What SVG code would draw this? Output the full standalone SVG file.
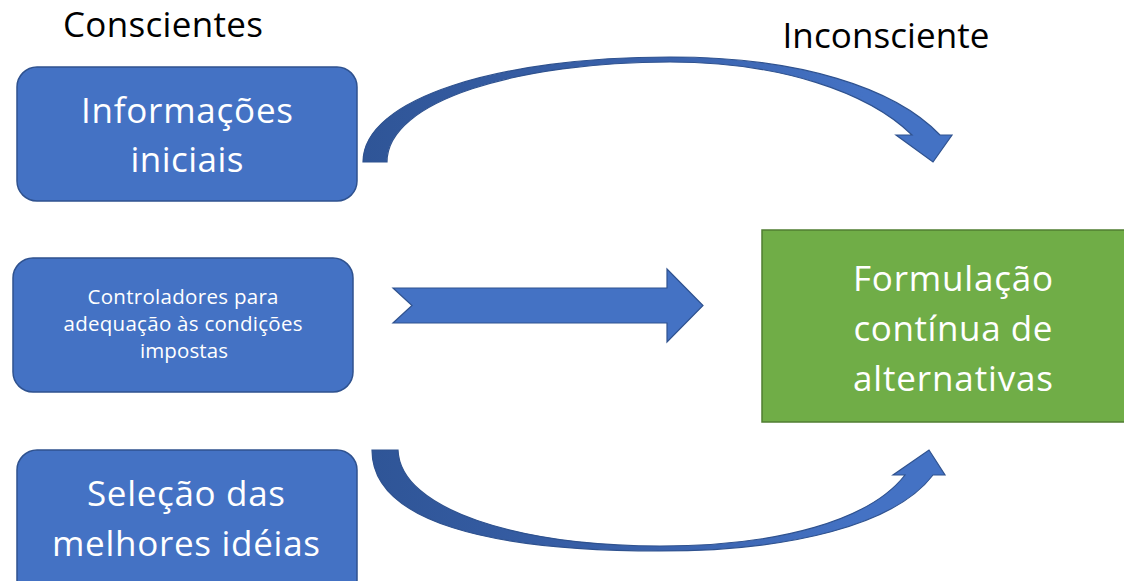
<svg xmlns="http://www.w3.org/2000/svg" width="1124" height="581" viewBox="0 0 1124 581">
<defs>
<style>
.box{fill:#4472C4;stroke:#2F528F;stroke-width:1.5}
.green{fill:#70AD47;stroke:#507E32;stroke-width:1.5}
.arrow{stroke:#2F528F;stroke-width:1.2;stroke-linejoin:miter}
.t{font-family:"Open Sans","Liberation Sans",sans-serif;text-anchor:middle}
.w{fill:#FFFFFF}
.k{fill:#000000}
.big{font-size:35px}
.small{font-size:20.5px}
</style>
<linearGradient id="gTop" x1="363" y1="0" x2="952" y2="0" gradientUnits="userSpaceOnUse">
<stop offset="0" stop-color="#2F5597"/>
<stop offset="0.5" stop-color="#3A62AC"/>
<stop offset="0.85" stop-color="#4472C4"/>
<stop offset="1" stop-color="#4472C4"/>
</linearGradient>
<linearGradient id="gBot" x1="372" y1="0" x2="945" y2="0" gradientUnits="userSpaceOnUse">
<stop offset="0" stop-color="#2F5597"/>
<stop offset="0.5" stop-color="#3A62AC"/>
<stop offset="0.85" stop-color="#4472C4"/>
<stop offset="1" stop-color="#4472C4"/>
</linearGradient>
</defs>
<rect width="1124" height="581" fill="#FFFFFF"/>

<text class="t k" x="163" y="37" font-size="35" textLength="200" lengthAdjust="spacing">Conscientes</text>
<text class="t k" x="886" y="48" font-size="35" textLength="207" lengthAdjust="spacing">Inconsciente</text>

<g id="connectors">
<path class="arrow" fill="url(#gTop)" d="M363,162 C363,98 500,57 670,57 C800,57 895,88 940,135 L952,135 L933,162 L896,135 L912,135 C868,92 780,62 670,62 C520,62 387,100 387,162 Z"/>
<path class="arrow" fill="#4472C4" d="M393,288 L667,288 L667,269 L703,305.5 L667,342 L667,323 L393,323 L412,305.5 Z"/>
<path class="arrow" fill="url(#gBot)" d="M372,450 L398,450 C400,510 520,546 660,546 C780,546 870,520 905,475 L893,475 L929,450 L945,475 L933,475 C895,525 790,551 660,551 C490,551 372,522 372,450 Z"/>
</g>

<g id="node-informacoes">
<rect class="box" x="17" y="67" width="340" height="134" rx="20" ry="20"/>
<text class="t w big" x="187" y="123" textLength="212" lengthAdjust="spacing">Informações</text>
<text class="t w big" x="187" y="172" textLength="113" lengthAdjust="spacing">iniciais</text>
</g>

<g id="node-controladores">
<rect class="box" x="13" y="258" width="340" height="134" rx="20" ry="20"/>
<text class="t w small" x="183" y="304" textLength="191" lengthAdjust="spacing">Controladores para</text>
<text class="t w small" x="183" y="331" textLength="239" lengthAdjust="spacing">adequação às condições</text>
<text class="t w small" x="184" y="358" textLength="88" lengthAdjust="spacing">impostas</text>
</g>

<g id="node-selecao">
<rect class="box" x="17" y="450" width="340" height="150" rx="20" ry="20"/>
<text class="t w big" x="186" y="506" textLength="198" lengthAdjust="spacing">Seleção das</text>
<text class="t w big" x="186" y="556" textLength="268" lengthAdjust="spacing">melhores idéias</text>
</g>

<g id="node-formulacao">
<rect class="green" x="762" y="230" width="364" height="192"/>
<text class="t w big" x="953" y="291" textLength="200" lengthAdjust="spacing">Formulação</text>
<text class="t w big" x="953" y="341" textLength="199" lengthAdjust="spacing">contínua de</text>
<text class="t w big" x="953" y="391" textLength="200" lengthAdjust="spacing">alternativas</text>
</g>
</svg>
